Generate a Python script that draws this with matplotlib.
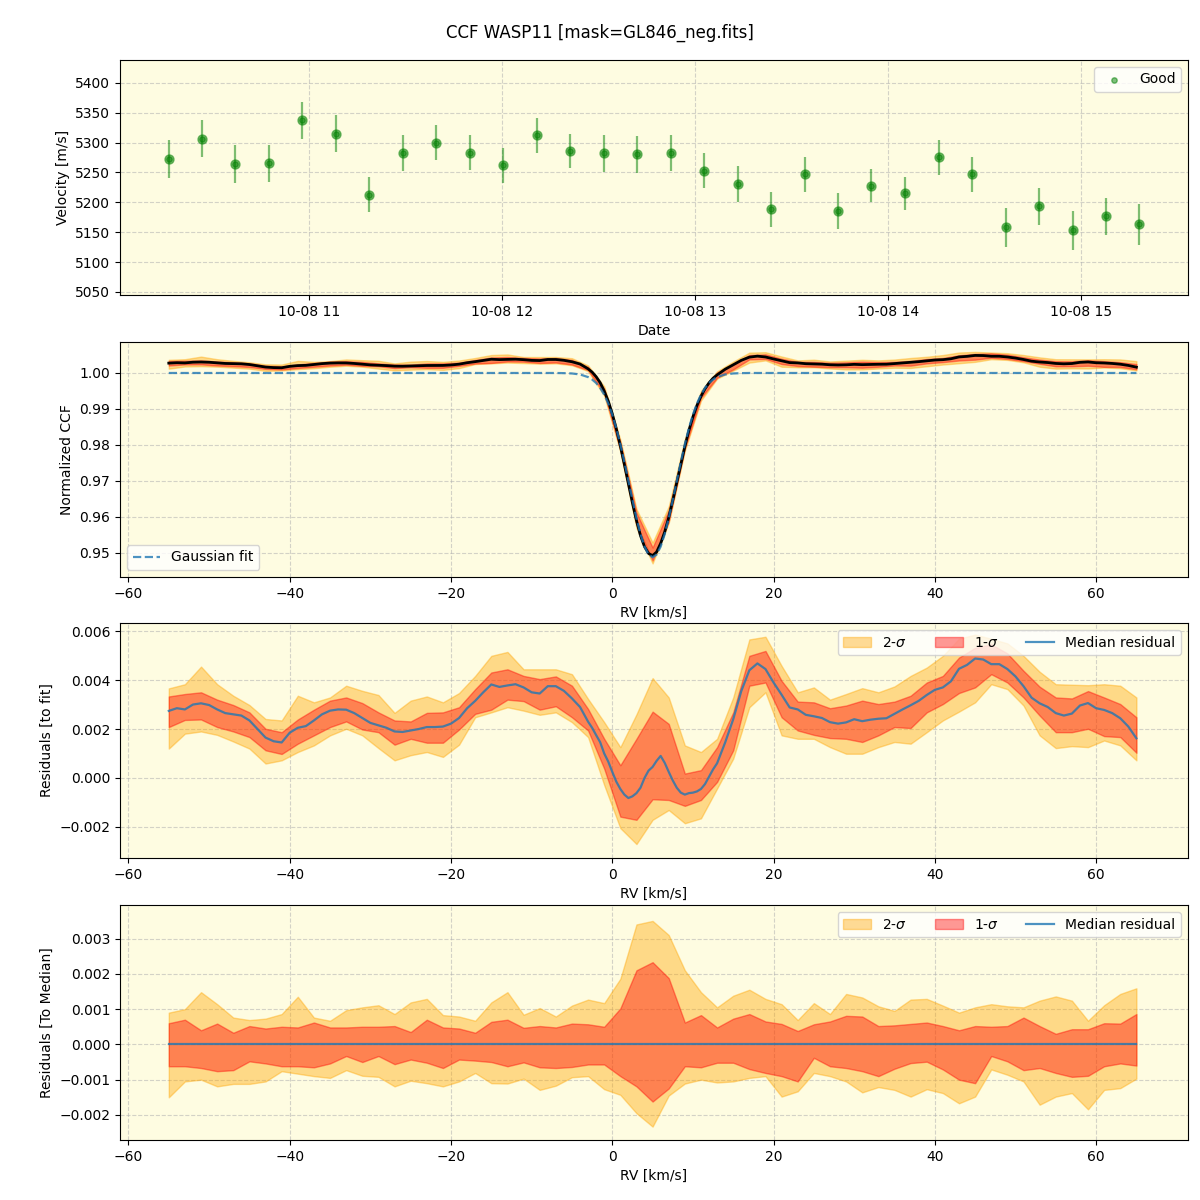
import numpy as np
import matplotlib
matplotlib.use("Agg")
import matplotlib.pyplot as plt
import matplotlib.dates as mdates
from datetime import datetime

# ---------------- data ----------------
obs_date = "2023-10-08"
obs_times = ["10:16:24", "10:26:48", "10:37:12", "10:47:36", "10:58:00", "11:08:24",
             "11:18:48", "11:29:12", "11:39:36", "11:50:00", "12:00:30", "12:10:54",
             "12:21:18", "12:31:42", "12:42:06", "12:52:30", "13:02:54", "13:13:18",
             "13:23:42", "13:34:06", "13:44:30", "13:54:54", "14:05:24", "14:15:48",
             "14:26:12", "14:36:36", "14:47:00", "14:57:24", "15:07:48", "15:18:12"]
velocity = [5272, 5306, 5264, 5265, 5337, 5315, 5213, 5282, 5300, 5283,
            5262, 5312, 5286, 5282, 5280, 5282, 5253, 5230, 5188, 5247,
            5185, 5228, 5215, 5275, 5247, 5158, 5193, 5153, 5177, 5163]
velocity_err = [32, 31, 31, 31, 31, 31, 29, 30, 30, 29,
                29, 29, 29, 31, 31, 30, 29, 30, 30, 29,
                30, 28, 28, 30, 29, 32, 31, 32, 31, 34]

# fine RV grid: 1 km/s outside the line, 0.5 km/s across the line core
rv_fine = (list(range(-55, -2)) +
           [-2.5, -2.0, -1.5, -1.0, -0.5, 0.0, 0.5, 1.0, 1.5, 2.0, 2.5, 3.0, 3.5, 4.0,
            4.5, 5.0, 5.5, 6.0, 6.5, 7.0, 7.5, 8.0, 8.5, 9.0, 9.5, 10.0, 10.5, 11.0,
            11.5, 12.0, 12.5] +
           list(range(13, 66)))
gauss_fit = ([1.0] * 49 +
             [0.99996, 0.99987, 0.99959, 0.99886,
              0.99819, 0.99722, 0.99585, 0.99398, 0.99152, 0.98842, 0.98464, 0.98022,
              0.97528, 0.97002, 0.96469, 0.95963, 0.95521, 0.95175, 0.94956, 0.94880,
              0.94956, 0.95175, 0.95521, 0.95963, 0.96469, 0.97002, 0.97528, 0.98022,
              0.98464, 0.98842, 0.99152, 0.99398, 0.99585, 0.99722, 0.99819,
              0.99886, 0.99959, 0.99987, 0.99996] +
             [1.0] * 49)
# median residual to fit (x1e-3)
median_resid = [2.74, 2.85, 2.80, 3.00, 3.05, 2.98, 2.80, 2.65, 2.60, 2.55,
                2.35, 2.00, 1.65, 1.50, 1.45, 1.85, 2.05, 2.12, 2.35, 2.60,
                2.75, 2.80, 2.79, 2.65, 2.45, 2.25, 2.15, 2.05, 1.90, 1.88,
                1.94, 2.00, 2.08, 2.08, 2.10, 2.22, 2.45, 2.85, 3.15, 3.50,
                3.82, 3.72, 3.78, 3.83, 3.70, 3.50, 3.45, 3.75, 3.75, 3.56,
                3.25, 2.90, 2.30,
                2.05, 1.75, 1.46, 1.00, 0.67, 0.25, -0.15, -0.45, -0.68, -0.82,
                -0.75, -0.62, -0.40, 0.00, 0.30, 0.45, 0.70, 0.90, 0.62, 0.25,
                -0.10, -0.40, -0.60, -0.68, -0.62, -0.60, -0.55, -0.45, -0.25, 0.05,
                0.35,
                0.60, 1.45, 2.40, 3.55, 4.40, 4.68, 4.45, 3.90, 3.40, 2.88,
                2.80, 2.58, 2.52, 2.45, 2.28, 2.22, 2.27, 2.40, 2.32, 2.38,
                2.42, 2.44, 2.62, 2.80, 2.97, 3.15, 3.39, 3.60, 3.70, 3.95,
                4.46, 4.62, 4.88, 4.84, 4.65, 4.65, 4.45, 4.15, 3.75, 3.28,
                3.05, 2.90, 2.65, 2.55, 2.63, 2.96, 3.06, 2.85, 2.78, 2.65,
                2.44, 2.10, 1.62]

# coarse RV grid (2 km/s): -55 ... 65
rv_coarse = list(range(-55, 66, 2))
# residual-to-fit percentile bands (x1e-3)
fit_2s_hi = [3.66, 3.83, 4.55, 3.83, 3.36, 2.98, 2.41, 2.35, 3.36, 3.09,
             3.29, 3.77, 3.56, 3.39, 2.66, 3.16, 3.33, 3.09, 3.47, 4.17,
             4.99, 5.15, 4.44, 4.44, 4.44, 4.24, 3.23, 2.28, 1.26, 2.60,
             4.08, 3.29, 1.33, 1.06, 1.60, 3.29, 5.66, 5.77, 4.58, 3.50,
             3.70, 3.20, 3.43, 3.67, 3.50, 3.74, 4.17, 4.51, 4.99, 5.69,
             5.86, 5.69, 5.50, 4.99, 4.34, 3.83, 3.81, 3.79, 3.83, 3.77,
             3.29]
fit_2s_lo = [1.20, 1.81, 1.90, 1.76, 1.49, 1.20, 0.59, 0.72, 1.06, 1.33,
             1.74, 2.01, 1.74, 1.22, 0.72, 0.93, 1.06, 0.86, 1.36, 2.48,
             2.68, 2.89, 2.75, 2.58, 2.68, 2.28, 1.67, -0.29, -2.05, -2.70,
             -1.71, -1.31, -1.85, -1.65, -0.43, 0.79, 2.89, 3.50, 1.74, 1.60,
             1.60, 1.26, 0.99, 0.99, 1.26, 1.47, 1.40, 1.87, 2.35, 2.71,
             3.09, 3.83, 3.63, 2.96, 1.74, 1.22, 1.30, 1.26, 1.53, 1.33,
             0.72]
fit_1s_hi = [3.33, 3.43, 3.50, 3.20, 2.98, 2.68, 2.01, 1.87, 2.39, 2.79,
             3.16, 3.29, 3.06, 2.68, 2.35, 2.31, 2.66, 2.68, 2.89, 3.63,
             4.31, 4.44, 4.17, 4.04, 4.15, 3.77, 2.82, 1.60, 0.52, 1.60,
             2.71, 2.21, 0.18, 0.32, 1.26, 2.68, 4.99, 5.19, 3.97, 3.12,
             3.09, 2.85, 2.96, 3.16, 3.02, 3.12, 3.36, 3.90, 4.17, 4.92,
             5.32, 5.46, 5.09, 4.38, 3.73, 3.29, 3.25, 3.55, 3.29, 3.02,
             2.48]
fit_1s_lo = [2.08, 2.37, 2.39, 2.08, 1.90, 1.67, 1.13, 0.98, 1.40, 1.74,
             2.08, 2.31, 1.98, 1.87, 1.36, 1.60, 1.44, 1.44, 1.98, 2.62,
             2.79, 3.20, 3.14, 2.79, 2.93, 2.48, 1.94, 0.38, -1.58, -1.71,
             -0.87, -0.90, -1.14, -0.90, -0.16, 1.13, 3.77, 3.90, 2.48, 1.94,
             1.76, 1.63, 1.60, 1.47, 1.74, 2.08, 2.04, 2.68, 3.02, 3.47,
             3.70, 4.24, 3.90, 3.29, 2.55, 1.87, 1.87, 2.01, 1.71, 1.67,
             1.03]
# residual-to-median percentile bands (x1e-3)
med_2s_hi = [0.90, 1.00, 1.48, 1.14, 0.76, 0.69, 0.73, 0.86, 1.35, 0.76,
             0.67, 0.97, 1.05, 1.11, 0.86, 1.19, 1.29, 0.83, 0.79, 0.67,
             1.19, 1.48, 0.84, 1.03, 0.79, 1.10, 1.27, 1.17, 1.86, 3.40,
             3.50, 3.10, 2.10, 1.48, 1.05, 1.38, 1.55, 1.29, 1.14, 0.69,
             1.17, 0.86, 1.43, 1.33, 1.08, 0.95, 1.27, 1.29, 1.10, 0.90,
             1.05, 1.14, 1.08, 1.05, 1.24, 1.36, 1.24, 0.67, 1.11, 1.43,
             1.59]
med_2s_lo = [-1.50, -1.05, -1.00, -1.19, -1.12, -1.12, -1.05, -0.76, -0.83, -0.90,
             -0.95, -0.73, -0.89, -0.92, -1.19, -1.03, -1.10, -1.19, -1.05, -0.81,
             -1.10, -1.11, -0.97, -1.29, -1.17, -0.93, -0.90, -1.27, -1.43, -1.95,
             -2.33, -1.45, -1.11, -1.00, -1.08, -1.05, -0.95, -0.90, -1.48, -1.33,
             -0.81, -0.90, -1.05, -1.36, -1.21, -1.29, -1.48, -1.27, -1.38, -1.67,
             -1.48, -0.71, -0.86, -1.05, -1.71, -1.48, -1.38, -1.84, -1.29, -1.24,
             -0.97]
med_1s_hi = [0.60, 0.70, 0.40, 0.59, 0.33, 0.52, 0.45, 0.50, 0.48, 0.62,
             0.48, 0.48, 0.50, 0.50, 0.52, 0.35, 0.70, 0.48, 0.45, 0.33,
             0.64, 0.70, 0.47, 0.52, 0.48, 0.59, 0.57, 0.50, 1.02, 2.10,
             2.33, 1.88, 0.62, 0.83, 0.48, 0.73, 0.86, 0.65, 0.58, 0.38,
             0.57, 0.65, 0.81, 0.79, 0.52, 0.54, 0.58, 0.62, 0.52, 0.40,
             0.52, 0.50, 0.52, 0.76, 0.52, 0.30, 0.43, 0.43, 0.60, 0.59,
             0.86]
med_1s_lo = [-0.62, -0.62, -0.67, -0.76, -0.73, -0.48, -0.54, -0.62, -0.62, -0.65,
             -0.54, -0.33, -0.50, -0.33, -0.56, -0.43, -0.52, -0.67, -0.43, -0.46,
             -0.50, -0.62, -0.51, -0.65, -0.67, -0.64, -0.57, -0.57, -0.90, -1.19,
             -1.62, -1.25, -0.62, -0.65, -0.52, -0.52, -0.70, -0.81, -0.90, -1.05,
             -0.38, -0.62, -0.67, -0.76, -0.90, -0.69, -0.53, -0.49, -0.71, -1.00,
             -1.10, -0.33, -0.48, -0.73, -0.67, -0.81, -0.92, -0.89, -0.62, -0.54,
             -0.60]

# ---------------- plotting ----------------
BG = "#fefce1"
C2 = "orange"
C1 = "red"

t = [datetime.strptime(obs_date + " " + s, "%Y-%m-%d %H:%M:%S") for s in obs_times]
rvf = np.array(rv_fine, dtype=float)
rvc = np.array(rv_coarse, dtype=float)
fit = np.array(gauss_fit)
med = np.array(median_resid) * 1e-3
ccf = fit + med
fit_lookup = dict(zip(rv_fine, gauss_fit))
fit_c = np.array([fit_lookup[v] for v in rv_coarse])

fig = plt.figure(figsize=(12, 12), dpi=100)
fig.suptitle("CCF WASP11 [mask=GL846_neg.fits]", fontsize=12, y=0.98)

L, W, H = 0.1, 0.89, 0.1958
ax1 = fig.add_axes([L, 0.7542, W, H])
ax2 = fig.add_axes([L, 0.5192, W, H])
ax3 = fig.add_axes([L, 0.2850, W, H])
ax4 = fig.add_axes([L, 0.0500, W, H])

for ax in (ax1, ax2, ax3, ax4):
    ax.set_facecolor(BG)
    ax.grid(True, linestyle="--", color="#b0b0b0", alpha=0.55)
    ax.set_axisbelow(True)

# panel 1
ax1.errorbar(t, velocity, yerr=velocity_err, fmt="o", color="green", alpha=0.5,
             ms=6.5, elinewidth=1.6, capsize=0)
ax1.scatter(t, velocity, s=15, color="green", alpha=0.5, label="Good", zorder=3)
ax1.set_ylim(5045, 5438)
ax1.set_yticks(np.arange(5050, 5401, 50))
ax1.xaxis.set_major_locator(mdates.HourLocator(interval=1))
ax1.xaxis.set_major_formatter(mdates.DateFormatter("%m-%d %H"))
ax1.set_xlabel("Date")
ax1.set_ylabel("Velocity [m/s]")
ax1.legend(loc="upper right")

# panel 2
ax2.fill_between(rvc, fit_c + np.array(fit_2s_lo) * 1e-3, fit_c + np.array(fit_2s_hi) * 1e-3,
                 color=C2, alpha=0.4)
ax2.fill_between(rvc, fit_c + np.array(fit_1s_lo) * 1e-3, fit_c + np.array(fit_1s_hi) * 1e-3,
                 color=C1, alpha=0.4)
ax2.plot(rvf, ccf, color="black", lw=2)
ax2.plot(rvf, fit, ls="--", color="C0", alpha=0.8, lw=1.6, label="Gaussian fit")
ax2.set_ylim(0.94333, 1.00861)
ax2.set_xlim(-61.05, 71.4)
ax2.set_xlabel("RV [km/s]")
ax2.set_ylabel("Normalized CCF")
ax2.legend(loc="lower left")

# panel 3
ax3.fill_between(rvc, np.array(fit_2s_lo) * 1e-3, np.array(fit_2s_hi) * 1e-3,
                 color=C2, alpha=0.4, label=r"2-$\sigma$")
ax3.fill_between(rvc, np.array(fit_1s_lo) * 1e-3, np.array(fit_1s_hi) * 1e-3,
                 color=C1, alpha=0.4, label=r"1-$\sigma$")
ax3.plot(rvf, med, color="C0", alpha=0.8, lw=1.6, label="Median residual")
ax3.set_ylim(-0.00327, 0.00633)
ax3.set_xlim(-61.05, 71.4)
ax3.set_xlabel("RV [km/s]")
ax3.set_ylabel("Residuals [to fit]")
ax3.legend(loc="upper right", ncol=3)

# panel 4
ax4.fill_between(rvc, np.array(med_2s_lo) * 1e-3, np.array(med_2s_hi) * 1e-3,
                 color=C2, alpha=0.4, label=r"2-$\sigma$")
ax4.fill_between(rvc, np.array(med_1s_lo) * 1e-3, np.array(med_1s_hi) * 1e-3,
                 color=C1, alpha=0.4, label=r"1-$\sigma$")
ax4.plot(rvf, np.zeros_like(rvf), color="C0", alpha=0.8, lw=1.6, label="Median residual")
ax4.set_ylim(-0.00271, 0.00395)
ax4.set_xlim(-61.05, 71.4)
ax4.set_xlabel("RV [km/s]")
ax4.set_ylabel("Residuals [To Median]")
ax4.legend(loc="upper right", ncol=3)

fig.savefig("out.png", dpi=100)
